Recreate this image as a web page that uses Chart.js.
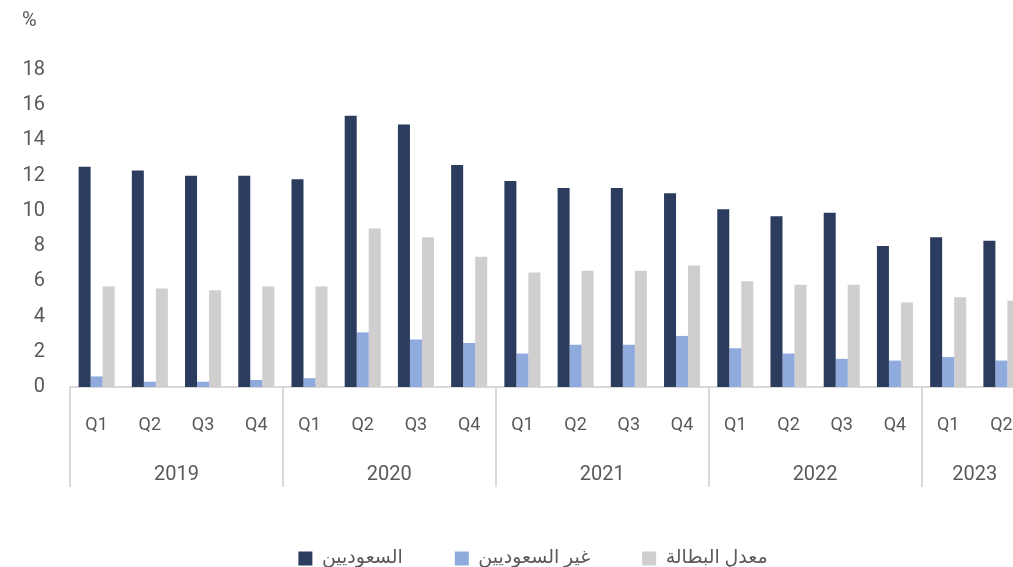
<!DOCTYPE html>
<html lang="ar">
<head>
<meta charset="utf-8">
<title>معدل البطالة</title>
<script src="https://cdn.jsdelivr.net/npm/chart.js@4"></script>
<style>
  html, body { margin: 0; padding: 0; background: #fff; overflow: hidden; }
  #wrap { position: absolute; left: 0; top: 0; }
</style>
</head>
<body>
<div id="wrap"><canvas id="chart" width="1044" height="578"></canvas></div>
<script>
// quarters per year, in order
const years = ['2019', '2020', '2021', '2022', '2023'];
const quarterLabels = [
  'Q1', 'Q2', 'Q3', 'Q4',
  'Q1', 'Q2', 'Q3', 'Q4',
  'Q1', 'Q2', 'Q3', 'Q4',
  'Q1', 'Q2', 'Q3', 'Q4',
  'Q1', 'Q2'
];
const quartersPerYear = [4, 4, 4, 4, 2];

// unemployment rate, %
const saudis    = [12.5, 12.3, 12.0, 12.0, 11.8, 15.4, 14.9, 12.6, 11.7, 11.3, 11.3, 11.0, 10.1, 9.7, 9.9, 8.0, 8.5, 8.3];
const nonSaudis = [0.6, 0.3, 0.3, 0.4, 0.5, 3.1, 2.7, 2.5, 1.9, 2.4, 2.4, 2.9, 2.2, 1.9, 1.6, 1.5, 1.7, 1.5];
const overall   = [5.7, 5.6, 5.5, 5.7, 5.7, 9.0, 8.5, 7.4, 6.5, 6.6, 6.6, 6.9, 6.0, 5.8, 5.8, 4.8, 5.1, 4.9];

const TEXT = '#595959';
const LINE = '#D9D9D9';

// first quarter index of each year, and the middle of each year's block
const yearStarts = [];
const yearCenters = [];
let idx = 0;
quartersPerYear.forEach(n => {
  yearStarts.push(idx);
  yearCenters.push(idx + (n - 1) / 2);
  idx += n;
});

Chart.defaults.font.family = 'Roboto, "DejaVu Sans", sans-serif';
Chart.defaults.color = TEXT;

new Chart(document.getElementById('chart'), {
  type: 'bar',
  data: {
    labels: quarterLabels,
    datasets: [
      { label: 'السعوديين', data: saudis, backgroundColor: '#2B3C5E' },
      { label: 'غير السعوديين', data: nonSaudis, backgroundColor: '#8FAADC' },
      { label: 'معدل البطالة', data: overall, backgroundColor: '#D0CECE' }
    ]
  },
  options: {
    responsive: false,
    animation: false,
    events: [],
    layout: { padding: { left: 22, top: 9, right: 0, bottom: 0 } },
    datasets: {
      bar: { categoryPercentage: 0.677, barPercentage: 1.0, borderWidth: 0 }
    },
    plugins: {
      tooltip: { enabled: false },
      title: {
        display: true,
        text: '%',
        align: 'start',
        color: TEXT,
        font: { size: 20, weight: 'normal' },
        padding: { top: 0, bottom: 37 }
      },
      legend: {
        position: 'bottom',
        labels: {
          boxWidth: 14,
          boxHeight: 14,
          padding: 52,
          color: TEXT,
          font: { size: 19 }
        }
      }
    },
    scales: {
      y: {
        min: 0,
        max: 18,
        ticks: { stepSize: 2, padding: 25, color: TEXT, font: { size: 20 } },
        grid: { display: false, drawTicks: false },
        border: { display: false },
        afterFit: s => { s.width = 48; }
      },
      x: {
        type: 'category',
        position: 'bottom',
        weight: 0,
        offset: true,
        ticks: {
          autoSkip: false,
          maxRotation: 0,
          padding: -72,
          color: TEXT,
          font: { size: 18 }
        },
        grid: {
          display: true,
          offset: true,
          drawOnChartArea: false,
          drawTicks: true,
          tickLength: 100,
          lineWidth: 2,
          color: c => yearStarts.includes(c.index) ? LINE : 'rgba(0,0,0,0)'
        },
        border: { display: true, color: LINE, width: 2 },
        afterFit: s => { s.height = 50; }
      },
      xYear: {
        type: 'linear',
        position: 'bottom',
        weight: 1,
        offset: false,
        bounds: 'data',
        min: -0.5,
        max: quarterLabels.length - 0.5,
        afterBuildTicks: s => { s.ticks = yearCenters.map(v => ({ value: v })); },
        ticks: {
          autoSkip: false,
          maxRotation: 0,
          padding: 26,
          color: TEXT,
          font: { size: 20 },
          callback: (v, i) => years[i]
        },
        grid: { display: false, drawTicks: false },
        border: { display: false },
        afterFit: s => { s.height = 60; }
      },
      edge: {
        type: 'linear',
        position: 'right',
        display: true,
        ticks: { display: false },
        grid: { display: false, drawTicks: false },
        border: { display: false },
        afterFit: s => { s.width = 16; }
      }
    }
  }
});
</script>
</body>
</html>
